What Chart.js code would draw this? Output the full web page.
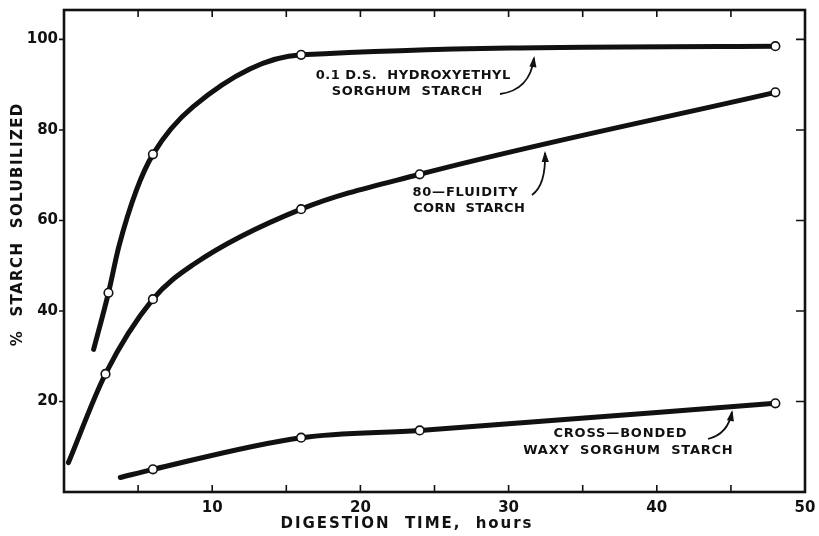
<!DOCTYPE html>
<html>
<head>
<meta charset="utf-8">
<script src="https://cdn.jsdelivr.net/npm/chart.js@4/dist/chart.umd.min.js"></script>
<style>
html,body{margin:0;padding:0;background:#fff;}
#wrap{width:819px;height:536px;position:relative;}
</style>
</head>
<body>
<div id="wrap"><canvas id="c" width="819" height="536"></canvas></div>
<script>
// ---- data (curve points without a marker have mark 0) ----
const hydroxyX = [2, 3, 3.7, 4.9, 6, 8.7, 16, 48];
const hydroxyY = [31.5, 44, 54.2, 66.8, 74.6, 85.1, 96.6, 98.5];
const hydroxyMark = [0, 1, 0, 0, 1, 0, 1, 1];

const cornX = [0.3, 2.8, 6, 8.7, 16, 24, 48];
const cornY = [6.5, 26.1, 42.6, 50.2, 62.5, 70.2, 88.3];
const cornMark = [0, 1, 1, 0, 1, 1, 1];

const waxyX = [3.8, 6, 16, 24, 48];
const waxyY = [3.2, 5, 12, 13.6, 19.6];
const waxyMark = [0, 1, 1, 1, 1];

const xTickLabels = [10, 20, 30, 40, 50];
const yTickLabels = [20, 40, 60, 80, 100];
const xTitle = "DIGESTION  TIME,  hours";
const yTitle = "%  STARCH  SOLUBILIZED";

const seriesLabels = [
  ["0.1 D.S.  HYDROXYETHYL", "SORGHUM  STARCH"],
  ["80\u2014FLUIDITY", "CORN  STARCH"],
  ["CROSS\u2014BONDED", "WAXY  SORGHUM  STARCH"]
];

function pts(xs, ys) { return xs.map((x, i) => ({x: x, y: ys[i]})); }
function radii(m) { return m.map(v => v ? 4.3 : 0); }

const INK = '#111';
const FONT = "'DejaVu Sans', 'Liberation Sans', sans-serif";

function mkSet(label, xs, ys, m) {
  return {
    label: label,
    data: pts(xs, ys),
    borderColor: INK,
    borderWidth: 5,
    borderCapStyle: 'round',
    borderJoinStyle: 'round',
    cubicInterpolationMode: 'monotone',
    pointRadius: radii(m),
    pointBackgroundColor: '#fff',
    pointBorderColor: INK,
    pointBorderWidth: 1.6,
    pointHoverRadius: radii(m),
    fill: false
  };
}

function spacedText(ctx, text, cx, cy, target, font) {
  ctx.save();
  ctx.font = font;
  ctx.letterSpacing = '0px';
  const w = ctx.measureText(text).width;
  const n = text.length;
  const ls = Math.max(0, (target - w) / n);
  ctx.letterSpacing = ls.toFixed(2) + 'px';
  ctx.textAlign = 'center';
  ctx.textBaseline = 'middle';
  ctx.fillStyle = INK;
  ctx.fillText(text, cx + ls / 2, cy);
  ctx.restore();
}

function arrow(ctx, x0, y0, cx, cy, x1, y1) {
  ctx.save();
  ctx.strokeStyle = INK;
  ctx.fillStyle = INK;
  ctx.lineWidth = 1.8;
  ctx.beginPath();
  ctx.moveTo(x0, y0);
  ctx.quadraticCurveTo(cx, cy, x1, y1);
  ctx.stroke();
  const a = Math.atan2(y1 - cy, x1 - cx);
  const L = 9, W = 3.6;
  ctx.beginPath();
  ctx.moveTo(x1 + Math.cos(a) * 2, y1 + Math.sin(a) * 2);
  ctx.lineTo(x1 - Math.cos(a) * L + Math.sin(a) * W, y1 - Math.sin(a) * L - Math.cos(a) * W);
  ctx.lineTo(x1 - Math.cos(a) * L - Math.sin(a) * W, y1 - Math.sin(a) * L + Math.cos(a) * W);
  ctx.closePath();
  ctx.fill();
  ctx.restore();
}

const framePlugin = {
  id: 'frame',
  beforeDraw(chart) {
    const ctx = chart.ctx;
    ctx.save();
    ctx.fillStyle = '#fff';
    ctx.fillRect(0, 0, chart.width, chart.height);
    ctx.restore();
  },
  afterDatasetsDraw(chart) {
    const ctx = chart.ctx;
    const a = chart.chartArea;
    const xs = chart.scales.x, ys = chart.scales.y;
    ctx.save();
    ctx.strokeStyle = INK;
    ctx.lineWidth = 2.6;
    ctx.strokeRect(a.left, a.top, a.right - a.left, a.bottom - a.top);
    ctx.lineWidth = 1.6;
    ctx.beginPath();
    for (let v = 5; v < 50; v += 5) {
      const px = xs.getPixelForValue(v);
      ctx.moveTo(px, a.bottom); ctx.lineTo(px, a.bottom - 7);
      ctx.moveTo(px, a.top); ctx.lineTo(px, a.top + 7);
    }
    yTickLabels.forEach(v => {
      const py = ys.getPixelForValue(v);
      ctx.moveTo(a.left, py); ctx.lineTo(a.left - 5, py);
      ctx.moveTo(a.right, py); ctx.lineTo(a.right - 9, py);
    });
    ctx.stroke();
    ctx.restore();

    // axis titles
    const tf = "bold 15px " + FONT;
    spacedText(ctx, xTitle, 406, 524, 253, tf);
    ctx.save();
    ctx.translate(18, 225);
    ctx.rotate(-Math.PI / 2);
    spacedText(ctx, yTitle, 0, 0, 244, tf);
    ctx.restore();

    // series annotations
    const af = "bold 13px " + FONT;
    spacedText(ctx, seriesLabels[0][0], 413, 76, 195, af);
    spacedText(ctx, seriesLabels[0][1], 407, 92, 151, af);
    arrow(ctx, 500, 94, 530, 90, 534, 58);
    spacedText(ctx, seriesLabels[1][0], 465, 193, 106, af);
    spacedText(ctx, seriesLabels[1][1], 469, 209, 112, af);
    arrow(ctx, 532, 195, 546, 185, 545, 153);
    spacedText(ctx, seriesLabels[2][0], 620, 434, 134, af);
    spacedText(ctx, seriesLabels[2][1], 628, 451, 210, af);
    arrow(ctx, 708, 439, 728, 434, 732, 412);
  }
};

new Chart(document.getElementById('c'), {
  type: 'line',
  data: {
    datasets: [
      mkSet('0.1 D.S. Hydroxyethyl Sorghum Starch', hydroxyX, hydroxyY, hydroxyMark),
      mkSet('80-Fluidity Corn Starch', cornX, cornY, cornMark),
      mkSet('Cross-Bonded Waxy Sorghum Starch', waxyX, waxyY, waxyMark)
    ]
  },
  options: {
    responsive: false,
    animation: false,
    clip: false,
    layout: { padding: { left: 0, right: 14, top: 10, bottom: 0 } },
    plugins: { legend: { display: false }, tooltip: { enabled: false }, title: { display: false } },
    scales: {
      x: {
        type: 'linear', min: 0, max: 50,
        grid: { display: false, drawTicks: false },
        border: { display: false },
        ticks: {
          stepSize: 5, autoSkip: false, maxRotation: 0, padding: 7,
          color: INK, font: { family: FONT, size: 15, weight: 'bold' },
          callback: (v) => xTickLabels.includes(v) ? String(v) : ''
        },
        afterFit: (s) => { s.height = 44; s.paddingLeft = 0; s.paddingRight = 0; }
      },
      y: {
        type: 'linear', min: 0, max: 106.5,
        grid: { display: false, drawTicks: false },
        border: { display: false },
        ticks: {
          stepSize: 20, padding: 6,
          color: INK, font: { family: FONT, size: 15, weight: 'bold' },
          callback: (v) => yTickLabels.includes(v) ? String(v) : ''
        },
        afterFit: (s) => { s.width = 64; s.paddingTop = 0; s.paddingBottom = 0; }
      }
    }
  },
  plugins: [framePlugin]
});
</script>
</body>
</html>
